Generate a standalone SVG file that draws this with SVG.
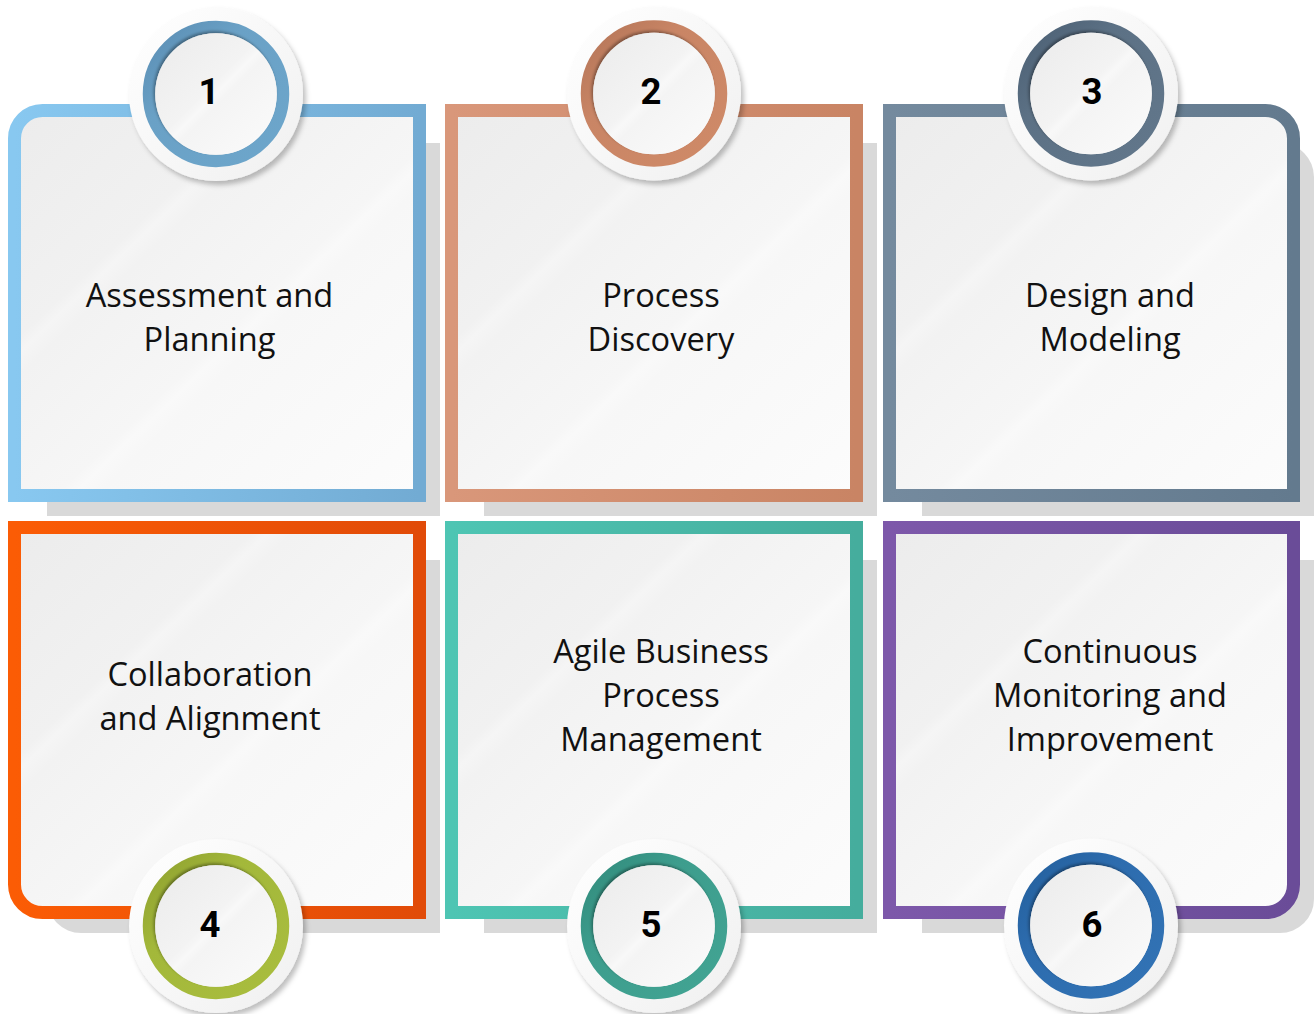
<svg xmlns="http://www.w3.org/2000/svg" width="1314" height="1014" viewBox="0 0 1314 1014">
<defs>
<style>
.shadow{fill:#d9d9d9}
.panel{fill:url(#panelG);stroke-width:13;stroke-linejoin:miter}
.label{font-family:"Open Sans","DejaVu Sans",sans-serif;font-size:32.6px;fill:#111;text-anchor:middle}
.num{font-family:Roboto,"Liberation Sans",sans-serif;font-weight:700;font-size:36.5px;fill:#000;text-anchor:middle}
.disc{fill:url(#discG);filter:url(#ds)}
.ring{fill:none;stroke-width:12.5}
.inner{fill:url(#innerG)}
</style>
<linearGradient id="panelG" x1="0" y1="0" x2="1" y2="1">
<stop offset="0" stop-color="#ececec"/>
<stop offset="0.3" stop-color="#f1f1f1"/>
<stop offset="0.32" stop-color="#f5f5f5"/>
<stop offset="0.35" stop-color="#f2f2f2"/>
<stop offset="0.55" stop-color="#f6f6f6"/>
<stop offset="0.57" stop-color="#f9f9f9"/>
<stop offset="0.6" stop-color="#f7f7f7"/>
<stop offset="1" stop-color="#fcfcfc"/>
</linearGradient>
<linearGradient id="discG" x1="0" y1="0" x2="1" y2="1">
<stop offset="0" stop-color="#ffffff"/>
<stop offset="1" stop-color="#f0f0f0"/>
</linearGradient>
<linearGradient id="innerG" x1="0" y1="0" x2="1" y2="1">
<stop offset="0" stop-color="#ebebeb"/>
<stop offset="0.45" stop-color="#f3f3f3"/>
<stop offset="0.5" stop-color="#f8f8f8"/>
<stop offset="0.55" stop-color="#f4f4f4"/>
<stop offset="1" stop-color="#fbfbfb"/>
</linearGradient>
<filter id="ds" x="-20%" y="-20%" width="145%" height="145%">
<feDropShadow dx="3" dy="4" stdDeviation="2.5" flood-color="#000" flood-opacity="0.25"/>
</filter>
<filter id="ins" x="-20%" y="-20%" width="140%" height="140%">
<feDropShadow dx="-1.5" dy="-2" stdDeviation="1.5" flood-color="#000" flood-opacity="0.35"/>
</filter>
<linearGradient id="b1" x1="0" x2="1"><stop offset="0" stop-color="#88c8f0"/><stop offset="1" stop-color="#72abd3"/></linearGradient>
<linearGradient id="b2" x1="0" x2="1"><stop offset="0" stop-color="#d9977a"/><stop offset="1" stop-color="#c98464"/></linearGradient>
<linearGradient id="b3" x1="0" x2="1"><stop offset="0" stop-color="#748a9e"/><stop offset="1" stop-color="#637a8e"/></linearGradient>
<linearGradient id="b4" x1="0" x2="1"><stop offset="0" stop-color="#fb5c05"/><stop offset="1" stop-color="#e14b08"/></linearGradient>
<linearGradient id="b5" x1="0" x2="1"><stop offset="0" stop-color="#4ec5b3"/><stop offset="1" stop-color="#45ad9d"/></linearGradient>
<linearGradient id="b6" x1="0" x2="1"><stop offset="0" stop-color="#7d58aa"/><stop offset="1" stop-color="#6a4c98"/></linearGradient>
<linearGradient id="r1" x1="0" y1="0" x2="1" y2="1"><stop offset="0" stop-color="#5a8db3"/><stop offset="0.35" stop-color="#6aa1c6"/><stop offset="1" stop-color="#6da6cb"/></linearGradient>
<linearGradient id="r2" x1="0" y1="0" x2="1" y2="1"><stop offset="0" stop-color="#b47558"/><stop offset="0.35" stop-color="#c98565"/><stop offset="1" stop-color="#cf8a68"/></linearGradient>
<linearGradient id="r3" x1="0" y1="0" x2="1" y2="1"><stop offset="0" stop-color="#4b5f73"/><stop offset="0.35" stop-color="#5c7185"/><stop offset="1" stop-color="#62778b"/></linearGradient>
<linearGradient id="r4" x1="0" y1="0" x2="1" y2="1"><stop offset="0" stop-color="#8ea02f"/><stop offset="0.35" stop-color="#a3b83a"/><stop offset="1" stop-color="#a9bd3e"/></linearGradient>
<linearGradient id="r5" x1="0" y1="0" x2="1" y2="1"><stop offset="0" stop-color="#318a7b"/><stop offset="0.35" stop-color="#3d9d8d"/><stop offset="1" stop-color="#42a493"/></linearGradient>
<linearGradient id="r6" x1="0" y1="0" x2="1" y2="1"><stop offset="0" stop-color="#235f9c"/><stop offset="0.35" stop-color="#2d6cae"/><stop offset="1" stop-color="#3273b5"/></linearGradient>
</defs>
<rect width="1314" height="1014" fill="#ffffff"/>

<g id="shadows">
<path class="shadow" d="M47 143 H440 V516 H47 Z"/>
<path class="shadow" d="M484 143 H877 V516 H484 Z"/>
<path class="shadow" d="M922 143 H1280 A34 34 0 0 1 1314 177 V516 H922 Z"/>
<path class="shadow" d="M47 560 H440 V933 H81 A34 34 0 0 1 47 899 Z"/>
<path class="shadow" d="M484 560 H877 V933 H484 Z"/>
<path class="shadow" d="M922 560 H1314 V899 A34 34 0 0 1 1280 933 H922 Z"/>
</g>

<g id="connectors"></g>

<g id="node1">
<path class="panel" stroke="url(#b1)" d="M14.5 138.5 A28 28 0 0 1 42.5 110.5 H419.5 V495.5 H14.5 Z"/>
<text class="label" x="209.5" y="307">Assessment and</text>
<text class="label" x="209.5" y="351">Planning</text>
<circle class="disc" cx="216" cy="94" r="87"/>
<circle class="ring" stroke="url(#r1)" cx="216" cy="94" r="67"/>
<circle class="inner" cx="216" cy="94" r="60.8" filter="url(#ins)"/>
<text class="num" x="209" y="104">1</text>
</g>

<g id="node2">
<path class="panel" stroke="url(#b2)" d="M451.5 110.5 H856.5 V495.5 H451.5 Z"/>
<text class="label" x="661" y="307">Process</text>
<text class="label" x="661" y="351">Discovery</text>
<circle class="disc" cx="654" cy="93.5" r="87"/>
<circle class="ring" stroke="url(#r2)" cx="654" cy="93.5" r="67"/>
<circle class="inner" cx="654" cy="93.5" r="60.8" filter="url(#ins)"/>
<text class="num" x="651" y="104">2</text>
</g>

<g id="node3">
<path class="panel" stroke="url(#b3)" d="M889.5 110.5 H1265.5 A28 28 0 0 1 1293.5 138.5 V495.5 H889.5 Z"/>
<text class="label" x="1110" y="307">Design and</text>
<text class="label" x="1110" y="351">Modeling</text>
<circle class="disc" cx="1091" cy="93.5" r="87"/>
<circle class="ring" stroke="url(#r3)" cx="1091" cy="93.5" r="67"/>
<circle class="inner" cx="1091" cy="93.5" r="60.8" filter="url(#ins)"/>
<text class="num" x="1092" y="104">3</text>
</g>

<g id="node4">
<path class="panel" stroke="url(#b4)" d="M14.5 527.5 H419.5 V912.5 H42.5 A28 28 0 0 1 14.5 884.5 Z"/>
<text class="label" x="210" y="686">Collaboration</text>
<text class="label" x="210" y="730">and Alignment</text>
<circle class="disc" cx="216" cy="926" r="87"/>
<circle class="ring" stroke="url(#r4)" cx="216" cy="926" r="67"/>
<circle class="inner" cx="216" cy="926" r="60.8" filter="url(#ins)"/>
<text class="num" x="210" y="937">4</text>
</g>

<g id="node5">
<path class="panel" stroke="url(#b5)" d="M451.5 527.5 H856.5 V912.5 H451.5 Z"/>
<text class="label" x="661" y="663">Agile Business</text>
<text class="label" x="661" y="707">Process</text>
<text class="label" x="661" y="751">Management</text>
<circle class="disc" cx="654" cy="926" r="87"/>
<circle class="ring" stroke="url(#r5)" cx="654" cy="926" r="67"/>
<circle class="inner" cx="654" cy="926" r="60.8" filter="url(#ins)"/>
<text class="num" x="651" y="937">5</text>
</g>

<g id="node6">
<path class="panel" stroke="url(#b6)" d="M889.5 527.5 H1293.5 V884.5 A28 28 0 0 1 1265.5 912.5 H889.5 Z"/>
<text class="label" x="1110" y="663">Continuous</text>
<text class="label" x="1110" y="707">Monitoring and</text>
<text class="label" x="1110" y="751">Improvement</text>
<circle class="disc" cx="1091" cy="925.5" r="87"/>
<circle class="ring" stroke="url(#r6)" cx="1091" cy="925.5" r="67"/>
<circle class="inner" cx="1091" cy="925.5" r="60.8" filter="url(#ins)"/>
<text class="num" x="1092" y="937">6</text>
</g>
</svg>
